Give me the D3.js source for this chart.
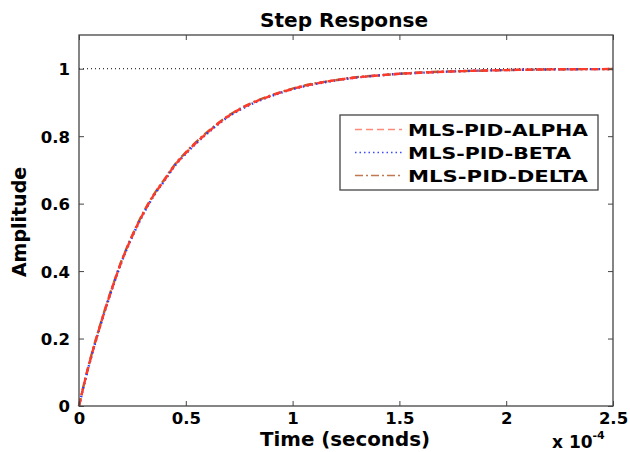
<!DOCTYPE html>
<html>
<head>
<meta charset="utf-8">
<script src="https://cdn.jsdelivr.net/npm/d3@7"></script>
<style>
  body { margin: 0; background: #fff; }
  text { font-family: "DejaVu Sans", sans-serif; font-weight: bold; fill: #000; }
</style>
</head>
<body>
<div id="chart"></div>
<script>
// time in units of 1e-4 s
const times = [0, 0.02, 0.05, 0.1, 0.15, 0.2, 0.25, 0.3, 0.35, 0.4, 0.45, 0.5, 0.6, 0.7, 0.8, 0.9, 1.0, 1.1, 1.2, 1.3, 1.4, 1.5, 1.6, 1.8, 2.0, 2.2, 2.5];
const alpha = [0, 0.055, 0.13, 0.24, 0.34, 0.43, 0.505, 0.57, 0.625, 0.67, 0.715, 0.75, 0.81, 0.86, 0.895, 0.92, 0.94, 0.955, 0.966, 0.974, 0.98, 0.985, 0.988, 0.993, 0.996, 0.998, 0.999];
const beta  = [0, 0.054, 0.128, 0.238, 0.338, 0.428, 0.503, 0.568, 0.623, 0.668, 0.713, 0.748, 0.808, 0.858, 0.893, 0.919, 0.939, 0.954, 0.965, 0.974, 0.98, 0.985, 0.988, 0.993, 0.996, 0.998, 0.999];
const delta = [0, 0.056, 0.132, 0.242, 0.342, 0.432, 0.507, 0.572, 0.627, 0.672, 0.717, 0.752, 0.812, 0.861, 0.896, 0.921, 0.941, 0.956, 0.966, 0.975, 0.98, 0.985, 0.989, 0.993, 0.996, 0.998, 0.999];
const seriesNames = ["MLS-PID-ALPHA", "MLS-PID-BETA", "MLS-PID-DELTA"];
const xTicks = [0, 0.5, 1, 1.5, 2, 2.5];
const yTicks = [0, 0.2, 0.4, 0.6, 0.8, 1];

const W = 630, H = 452;
const margin = {left: 79, right: 17, top: 35, bottom: 46};
const pw = W - margin.left - margin.right, ph = H - margin.top - margin.bottom;

const svg = d3.select("#chart").append("svg").attr("width", W).attr("height", H);
const g = svg.append("g").attr("transform", `translate(${margin.left},${margin.top})`);

const x = d3.scaleLinear().domain([0, 2.5]).range([0, pw]);
const y = d3.scaleLinear().domain([0, 1.1]).range([ph, 0]);

// reference line at 1
g.append("line")
  .attr("x1", 0).attr("x2", pw).attr("y1", y(1)).attr("y2", y(1))
  .attr("stroke", "#000").attr("stroke-width", 1).attr("stroke-dasharray", "1,3");

const styles = [
  {data: alpha, color: "#ff3a2a", dash: "7,4", lcolor: "#ff8a7a"},
  {data: beta, color: "#2a3aff", dash: "1.5,3", lcolor: "#3a4aff"},
  {data: delta, color: "#c8581c", dash: "8,3,2,3", lcolor: "#c07850"}
];

const line = d3.line().x((d, i) => x(times[i])).y(d => y(d)).curve(d3.curveMonotoneX);

[styles[2], styles[1], styles[0]].forEach(s => {
  g.append("path").datum(s.data)
    .attr("d", line)
    .attr("fill", "none")
    .attr("stroke", s.color)
    .attr("stroke-width", 2.4)
    .attr("stroke-dasharray", s.dash);
});

// axes box
g.append("rect").attr("width", pw).attr("height", ph)
  .attr("fill", "none").attr("stroke", "#444").attr("stroke-width", 1.3);

const fmt = d => d3.format("")(d);
const styleTicks = a => a.selectAll("text")
  .attr("font-size", 16.5).attr("font-family", "DejaVu Sans").attr("font-weight", "bold").attr("fill", "#000");

g.append("g").attr("transform", `translate(0,${ph})`)
  .call(d3.axisBottom(x).tickValues(xTicks).tickSizeInner(-5).tickSizeOuter(0).tickPadding(0).tickFormat(fmt))
  .call(a => a.select(".domain").remove())
  .call(a => a.selectAll("line").attr("stroke", "#444"))
  .call(styleTicks)
  .call(a => a.selectAll("text").attr("dy", null).attr("y", 18));

g.append("g")
  .call(d3.axisTop(x).tickValues(xTicks).tickSizeInner(-5).tickSizeOuter(0).tickFormat(""))
  .call(a => a.select(".domain").remove())
  .call(a => a.selectAll("line").attr("stroke", "#444"));

g.append("g")
  .call(d3.axisLeft(y).tickValues(yTicks).tickSizeInner(-5).tickSizeOuter(0).tickPadding(9).tickFormat(fmt))
  .call(a => a.select(".domain").remove())
  .call(a => a.selectAll("line").attr("stroke", "#444"))
  .call(styleTicks)
  .call(a => a.selectAll("text").attr("dy", "0.36em"));

g.append("g").attr("transform", `translate(${pw},0)`)
  .call(d3.axisRight(y).tickValues(yTicks).tickSizeInner(-5).tickSizeOuter(0).tickFormat(""))
  .call(a => a.select(".domain").remove())
  .call(a => a.selectAll("line").attr("stroke", "#444"));

// titles
svg.append("text").attr("x", 344).attr("y", 27)
  .attr("text-anchor", "middle").attr("font-size", 19.5)
  .attr("textLength", 168).attr("lengthAdjust", "spacingAndGlyphs").text("Step Response");
svg.append("text").attr("x", 345).attr("y", 446)
  .attr("text-anchor", "middle").attr("font-size", 19.5)
  .attr("textLength", 170).attr("lengthAdjust", "spacingAndGlyphs").text("Time (seconds)");
svg.append("text").attr("transform", "translate(26,222) rotate(-90)")
  .attr("text-anchor", "middle").attr("font-size", 19)
  .attr("font-family", "Liberation Sans").text("Amplitude");
const mult = svg.append("text").attr("x", 552).attr("y", 448).attr("font-size", 17);
mult.append("tspan").text("x 10");
mult.append("tspan").attr("dy", -9).attr("font-size", 11).text("-4");

// legend
const lg = svg.append("g").attr("transform", "translate(340,115)");
lg.append("rect").attr("width", 258).attr("height", 75)
  .attr("fill", "#fff").attr("stroke", "#444").attr("stroke-width", 1.3);
seriesNames.forEach((name, i) => {
  const yy = 14.5 + i * 23;
  lg.append("line").attr("x1", 15).attr("x2", 62).attr("y1", yy).attr("y2", yy)
    .attr("stroke", styles[i].lcolor).attr("stroke-width", 1.4)
    .attr("stroke-dasharray", styles[i].dash);
  lg.append("text").attr("x", 68).attr("y", yy + 6.5).attr("font-size", 16.5)
    .attr("textLength", name === "MLS-PID-BETA" ? 163 : 180).attr("lengthAdjust", "spacingAndGlyphs")
    .text(name);
});
</script>
</body>
</html>
